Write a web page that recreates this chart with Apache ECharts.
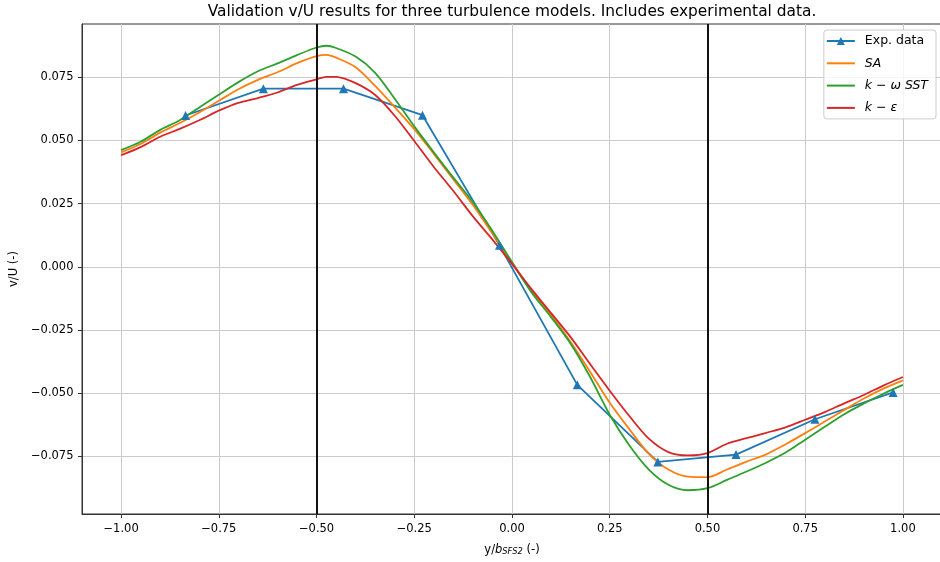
<!DOCTYPE html>
<html>
<head>
<meta charset="utf-8">
<script src="https://cdn.jsdelivr.net/npm/echarts@6/dist/echarts.min.js"></script>
<style>
  html, body { margin: 0; padding: 0; background: #ffffff; }
  #chart { width: 940px; height: 562px; }
</style>
</head>
<body>
<div id="chart"></div>
<script>
// Spanwise stations y/b for the CFD profiles
const stations = [-1.00, -0.95, -0.90, -0.85, -0.80, -0.75, -0.70, -0.65, -0.60, -0.55,
  -0.50, -0.475, -0.45, -0.40, -0.35, -0.30, -0.25, -0.20, -0.15, -0.10, -0.05,
  0.00, 0.05, 0.10, 0.15, 0.20, 0.25, 0.30, 0.35, 0.40, 0.45, 0.50, 0.55, 0.60,
  0.65, 0.70, 0.75, 0.80, 0.85, 0.90, 0.95, 1.00];

// v/U from the Spalart-Allmaras model
const saValues = [0.0453, 0.0486, 0.0531, 0.0569, 0.0611, 0.0657, 0.0703, 0.0740, 0.0770, 0.0806,
  0.0834, 0.0839, 0.0828, 0.0790, 0.0716, 0.0632, 0.0545, 0.0447, 0.0346, 0.0245, 0.0132,
  0.0018, -0.0095, -0.0191, -0.0297, -0.0416, -0.0538, -0.0642, -0.0740, -0.0802, -0.0830,
  -0.0832, -0.0802, -0.0771, -0.0742, -0.0702, -0.0658, -0.0612, -0.0566, -0.0521, -0.0482, -0.0449];

// v/U from the k-omega SST model
const sstValues = [0.0462, 0.0495, 0.0542, 0.0580, 0.0631, 0.0681, 0.0731, 0.0774, 0.0805, 0.0838,
  0.0868, 0.0875, 0.0866, 0.0832, 0.0768, 0.0665, 0.0556, 0.0453, 0.0353, 0.0256, 0.0142,
  0.0018, -0.0101, -0.0199, -0.0304, -0.0436, -0.0585, -0.0706, -0.0802, -0.0862, -0.0884,
  -0.0876, -0.0843, -0.0810, -0.0775, -0.0735, -0.0684, -0.0633, -0.0583, -0.0541, -0.0502, -0.0467];

// v/U from the k-epsilon model
const kepsValues = [0.0442, 0.0474, 0.0515, 0.0546, 0.0580, 0.0618, 0.0649, 0.0668, 0.0690, 0.0720,
  0.0742, 0.0752, 0.0752, 0.0727, 0.0680, 0.0598, 0.0498, 0.0395, 0.0300, 0.0200, 0.0108,
  0.0012, -0.0088, -0.0183, -0.0278, -0.0385, -0.0490, -0.0590, -0.0680, -0.0733, -0.0746,
  -0.0737, -0.0700, -0.0678, -0.0657, -0.0635, -0.0605, -0.0575, -0.0540, -0.0507, -0.0470, -0.0436];

// Measured stations and values
const expStations = [-0.835, -0.636, -0.431, -0.229, -0.032, 0.167, 0.373, 0.573, 0.775, 0.975];
const expValues = [0.0599, 0.0705, 0.0705, 0.0600, 0.0085, -0.0467, -0.0772, -0.0743, -0.0603, -0.0497];

// Axis ticks and marker lines
const xTicks = [-1.00, -0.75, -0.50, -0.25, 0.00, 0.25, 0.50, 0.75, 1.00];
const yTicks = [-0.075, -0.050, -0.025, 0.000, 0.025, 0.050, 0.075];
const markerStations = [-0.5, 0.5];

const seriesNames = ['Exp. data', 'SA', 'k \u2212 \u03c9 SST', 'k \u2212 \u03b5'];
const titleText = 'Validation v/U results for three turbulence models. Includes experimental data.';

const pairs = (xs, ys) => xs.map((x, i) => [x, ys[i]]);
const FONT = 'DejaVu Sans';
const minus = s => s.replace('-', '\u2212');
const fmt = (v, d) => minus((Math.abs(v) < 1e-9 ? 0 : v).toFixed(d));

const LEGEND_FS = 12.5;
const legendRich = {
  n: { fontFamily: FONT, fontSize: LEGEND_FS, color: '#000' },
  it: { fontFamily: FONT, fontSize: LEGEND_FS, color: '#000', fontStyle: 'italic' }
};
const legendText = {
  'Exp. data': '{n|Exp. data}',
  'SA': '{it|SA}',
  'k \u2212 \u03c9 SST': '{it|k}{n| \u2212 }{it|\u03c9 SST}',
  'k \u2212 \u03b5': '{it|k}{n| \u2212 }{it|\u03b5}'
};

const chart = echarts.init(document.getElementById('chart'), null, { renderer: 'canvas' });

const lineSeries = (name, xs, ys, color, extra) => Object.assign({
  name: name,
  type: 'line',
  data: pairs(xs, ys),
  showSymbol: false,
  symbol: 'none',
  smooth: 0.3,
  lineStyle: { color: color, width: 1.8 },
  itemStyle: { color: color },
  emphasis: { disabled: true },
  animation: false
}, extra || {});

chart.setOption({
  animation: false,
  backgroundColor: '#ffffff',
  textStyle: { fontFamily: FONT },
  title: {
    text: titleText,
    left: 512,
    top: 4,
    textAlign: 'center',
    padding: 0,
    textStyle: { fontFamily: FONT, fontSize: 15.4, fontWeight: 'normal', color: '#000' }
  },
  grid: {
    left: 82, top: 24, width: 860, height: 490,
    show: true, borderColor: '#333', borderWidth: 1, backgroundColor: 'transparent',
    containLabel: false, outerBoundsMode: 'none'
  },
  legend: {
    orient: 'vertical',
    right: 4, top: 30,
    itemWidth: 28, itemHeight: 10, itemGap: 9.3,
    padding: [4.5, 8, 4.5, 2],
    backgroundColor: 'rgba(255,255,255,0.8)',
    borderColor: '#cccccc', borderWidth: 1, borderRadius: 3,
    data: [
      { name: seriesNames[0] },
      { name: seriesNames[1], itemStyle: { opacity: 0 } },
      { name: seriesNames[2], itemStyle: { opacity: 0 } },
      { name: seriesNames[3], itemStyle: { opacity: 0 } }
    ],
    formatter: name => legendText[name],
    textStyle: { fontFamily: FONT, fontSize: LEGEND_FS, color: '#000', padding: [0, 0, 0, 5], rich: legendRich },
    selectedMode: false
  },
  xAxis: {
    type: 'value',
    min: -1.1, max: 1.1,
    minInterval: 0.25, maxInterval: 0.25,
    name: '{n|y/}{i|b}{s|SFS2}{n| (-)}',
    nameLocation: 'middle',
    nameGap: 30,
    nameTextStyle: {
      rich: {
        n: { fontFamily: FONT, fontSize: 11.5, color: '#000', lineHeight: 14, verticalAlign: 'top' },
        i: { fontFamily: FONT, fontSize: 11.5, color: '#000', fontStyle: 'italic', lineHeight: 14, verticalAlign: 'top' },
        s: { fontFamily: FONT, fontSize: 8.3, color: '#000', fontStyle: 'italic', lineHeight: 14, verticalAlign: 'top', padding: [4, 0, 0, 0] }
      }
    },
    axisLine: { show: true, onZero: false, lineStyle: { color: '#333', width: 1 } },
    axisTick: { show: true, inside: false, length: 4, lineStyle: { color: '#333', width: 1 }, customValues: xTicks },
    axisLabel: {
      customValues: xTicks, showMinLabel: true, showMaxLabel: true,
      margin: 9, color: '#000', fontFamily: FONT, fontSize: 11.5,
      formatter: v => fmt(v, 2)
    },
    splitLine: { show: true, lineStyle: { color: '#cbcbcb', width: 1 } }
  },
  yAxis: {
    type: 'value',
    min: -0.0978, max: 0.0961,
    minInterval: 0.025, maxInterval: 0.025,
    name: 'v/U (-)',
    nameLocation: 'middle',
    nameGap: 61,
    nameRotate: 90,
    nameTextStyle: { fontFamily: FONT, fontSize: 11.5, color: '#000' },
    axisLine: { show: true, onZero: false, lineStyle: { color: '#333', width: 1 } },
    axisTick: { show: true, inside: false, length: 4, lineStyle: { color: '#333', width: 1 }, customValues: yTicks },
    axisLabel: {
      customValues: yTicks, showMinLabel: true, showMaxLabel: true,
      margin: 8.5, color: '#000', fontFamily: FONT, fontSize: 11.5,
      formatter: v => fmt(v, 3)
    },
    splitLine: { show: true, lineStyle: { color: '#cbcbcb', width: 1 } }
  },
  series: [
    lineSeries(seriesNames[0], expStations, expValues, '#1f77b4', {
      showSymbol: true, symbol: 'triangle', symbolSize: 9, smooth: false
    }),
    lineSeries(seriesNames[1], stations, saValues, '#ff7f0e'),
    lineSeries(seriesNames[2], stations, sstValues, '#2ca02c'),
    lineSeries(seriesNames[3], stations, kepsValues, '#d62728', {
      markLine: {
        silent: true,
        symbol: ['none', 'none'],
        label: { show: false },
        lineStyle: { color: '#111', width: 2, type: 'solid' },
        emphasis: { disabled: true },
        data: markerStations.map(x => ({ xAxis: x }))
      }
    })
  ]
});
</script>
</body>
</html>
